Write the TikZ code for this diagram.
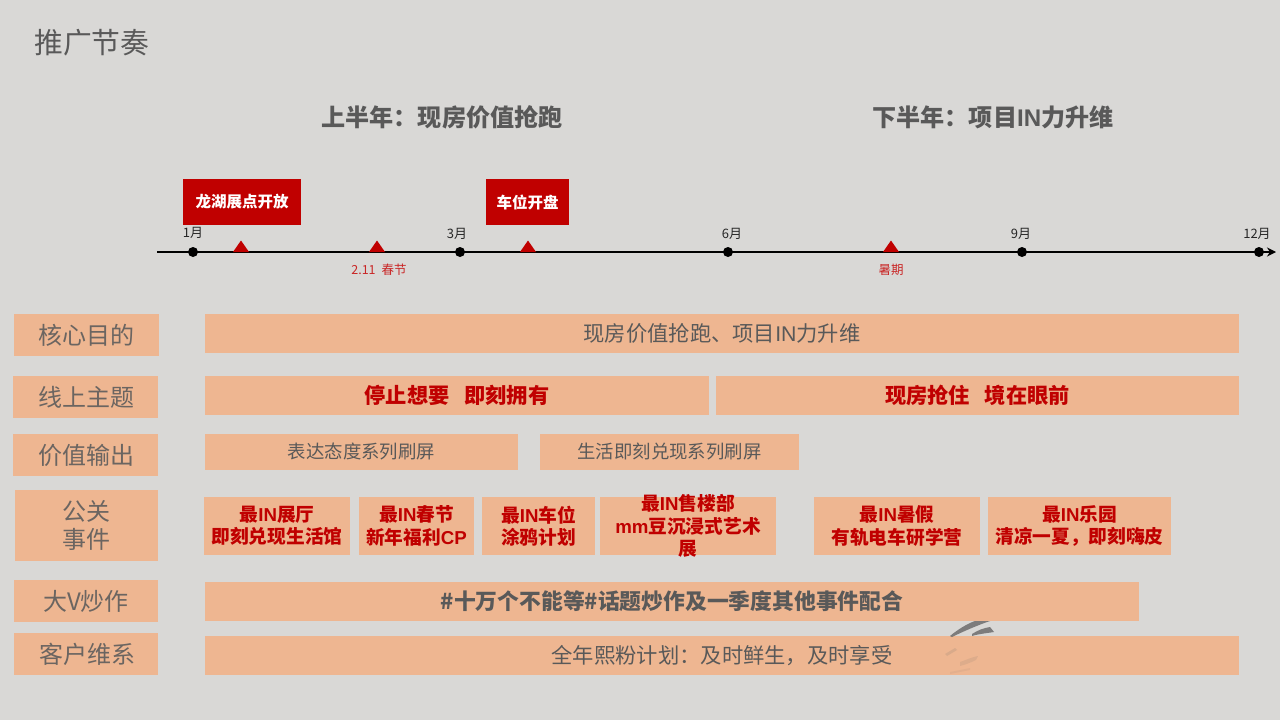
\documentclass[tikz,border=0pt]{standalone}
\usepackage{fontspec}
\setmainfont{Noto Sans CJK SC}
\newfontfamily\lat{Liberation Sans}
\usetikzlibrary{arrows.meta}
\definecolor{bgc}{HTML}{D9D8D6}
\definecolor{peach}{HTML}{EEB691}
\definecolor{redc}{HTML}{C00000}
\definecolor{txtc}{HTML}{595959}
\definecolor{cate}{HTML}{6B6561}
\newcommand{\fs}[1]{\fontsize{#1}{\dimexpr #1pt*6/5\relax}\selectfont}
\tikzset{
 x=1pt,y=-1pt,
 box/.style={fill=peach,draw=none,inner sep=0pt,align=center,text=txtc},
 redbox/.style={fill=redc,draw=none,inner sep=0pt,align=center,text=white,font=\fs{15.5}\bfseries},
 cat/.style={box,font=\fs{24},text=cate},
 body/.style={box,font=\fs{21.3}},
 small/.style={box,font=\fs{18.4}},
 hot/.style={box,font=\fs{21.2}\bfseries,text=redc},
 event/.style={box,font=\fs{18.7}\bfseries,text=redc},
 eventtext/.style={inner sep=0pt,align=center,font=\fs{18.7}\bfseries,text=redc},
 heading/.style={font=\fs{24.1}\bfseries,text=txtc,inner sep=0pt},
 month/.style={font=\fs{13},text=black!85,inner sep=0pt},
 note/.style={font=\fs{12.5},text=redc!85!white,inner sep=0pt},
 dot/.style={circle,fill=black,minimum size=10pt,inner sep=0pt},
 mark tri/.style={fill=redc,draw=none},
 ink/.style={fill=black!60,draw=none,opacity=.8}
}
% name, x0, y0, x1, y1, style, text
\newcommand{\bx}[7]{\node[#6,minimum width=#4pt-#2pt,minimum height=#5pt-#3pt,text width=#4pt-#2pt] (#1) at ({(#2+#4)/2},{(#3+#5)/2}) {#7};}
\newcommand{\tri}[1]{\fill[mark tri] (#1-8,252) -- (#1,240.5) -- (#1+8,252) -- cycle;}
\begin{document}
\begin{tikzpicture}
\fill[bgc] (0,0) rectangle (1280,720);
\useasboundingbox (0,0) rectangle (1280,720);

\node[font=\fs{28.8},text=txtc,inner sep=0pt,anchor=west] (title) at (34,43) {推广节奏};
\node[heading] (h1) at (442,117) {上半年：现房价值抢跑};
\node[heading] (h2) at (993,117) {下半年：项目{\lat IN}力升维};

% timeline
\coordinate (tl0) at (157,252);
\coordinate (tl1) at (1276,252);
\draw[line width=2.6pt,-{Stealth[length=9pt,width=9pt]}] (tl0) -- (tl1);
\node[dot] (d1) at (193,252) {};
\node[dot] (d3) at (460,252) {};
\node[dot] (d6) at (728,252) {};
\node[dot] (d9) at (1022,252) {};
\node[dot] (d12) at (1259,252) {};
\tri{241}\tri{377}\tri{528}\tri{891}
\node[month] (m1) at (193,233) {1月};
\node[month] (m3) at (457,233.5) {3月};
\node[month] (m6) at (732,234) {6月};
\node[month] (m9) at (1021,234) {9月};
\node[month] (m12) at (1257,234) {12月};
\node[note] (n1) at (379,270) {2.11\hspace{6pt}春节};
\node[note] (n2) at (891,270) {暑期};

\bx{e1}{183}{179}{301}{225}{redbox}{龙湖展点开放}
\bx{e2}{486}{179}{569}{225}{redbox}{车位开盘}

% categories
\bx{c1}{14}{314}{159}{356}{cat}{核心目的}
\bx{c2}{13}{376}{158}{418}{cat}{\raisebox{1pt}{\hspace{2pt}线上主题}}
\bx{c3}{13}{434}{158}{476}{cat}{\raisebox{1pt}{\hspace{2pt}价值输出}}
\bx{c4}{15}{490}{158}{561}{cat}{公关\\事件}
\bx{c5}{14}{580}{158}{622}{cat}{大V炒作}
\bx{c6}{14}{633}{158}{675}{cat}{\hspace{3pt}客户维系}

% rows
\bx{r1}{205}{314}{1239}{353}{body}{现房价值抢跑、项目{\lat IN}力升维}
\bx{r2a}{205}{376}{709}{415}{hot}{停止想要\hspace{15pt}即刻拥有}
\bx{r2b}{716}{376}{1239}{415}{hot}{现房抢住\hspace{15pt}境在眼前}
\bx{r3a}{205}{434}{518}{470}{small}{表达态度系列刷屏}
\bx{r3b}{540}{434}{799}{470}{small}{生活即刻兑现系列刷屏}

\bx{p1}{204}{497}{350}{555}{event}{最{\lat IN}展厅\\即刻兑现生活馆}
\bx{p2}{359}{497}{474}{555}{event}{最{\lat IN}春节\\新年福利{\lat CP}}
\bx{p3}{482}{497}{595}{555}{event}{最{\lat IN}车位\\涂鸦计划}
\bx{p4}{600}{497}{776}{555}{event}{}
\node[eventtext] (p4t) at (p4.center) {最{\lat IN}售楼部\\{\lat mm}豆沉浸式艺术\\展};
\bx{p5}{814}{497}{980}{555}{event}{最{\lat IN}暑假\\有轨电车研学营}
\bx{p6}{988}{497}{1171}{555}{event}{最{\lat IN}乐园\\清凉一夏，即刻嗨皮}

\bx{r5}{205}{582}{1139}{621}{body}{\bfseries\fs{21.8}\#十万个不能等\#话题炒作及一季度其他事件配合}
\bx{r6}{205}{636}{1239}{675}{body}{全年熙粉计划：及时鲜生，及时享受}

% watermark brush strokes
\fill[ink] (950,636) .. controls (962,626) and (972,622) .. (975,621) -- (990,621) .. controls (978,625) and (962,632) .. (952,637) -- cycle;
\fill[ink] (972,634) .. controls (978,630) and (984,628) .. (990,627) -- (994,632) .. controls (988,633) and (978,634) .. (972,636) -- cycle;
\fill[ink,opacity=.15] (945,654) -- (955,648) -- (957,650) -- (947,656) -- cycle;
\fill[ink,opacity=.12] (960,662) .. controls (966,660) and (972,657) .. (978,656) -- (976,660) .. controls (970,663) and (964,665) .. (960,666) -- cycle;
\fill[ink,opacity=.08] (950,672) -- (970,668) -- (970,670) -- (950,674) -- cycle;
\end{tikzpicture}
\end{document}
